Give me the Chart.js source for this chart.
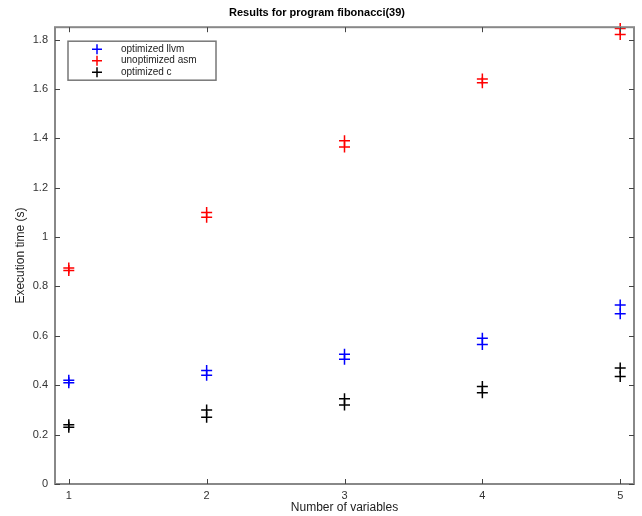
<!DOCTYPE html>
<html>
<head>
<meta charset="utf-8">
<script src="https://cdn.jsdelivr.net/npm/chart.js@4/dist/chart.umd.min.js"></script>
<style>
  html, body { margin: 0; padding: 0; background: #fff; }
  #wrap { width: 642px; height: 516px; }
</style>
</head>
<body>
<div id="wrap"><canvas id="chart"></canvas></div>
<script>
// number of variables, each run measured twice
const xValues = [1, 1, 2, 2, 3, 3, 4, 4, 5, 5];
const optimizedLlvm = [0.42, 0.41, 0.46, 0.44, 0.525, 0.505, 0.59, 0.565, 0.725, 0.69];
const unoptimizedAsm = [0.875, 0.865, 1.10, 1.08, 1.39, 1.365, 1.64, 1.625, 1.845, 1.82];
const optimizedC = [0.24, 0.23, 0.30, 0.27, 0.345, 0.32, 0.395, 0.37, 0.47, 0.435];
const xTicks = [1, 2, 3, 4, 5];
const yTicks = [0, 0.2, 0.4, 0.6, 0.8, 1, 1.2, 1.4, 1.6, 1.8];

const toPoints = (ys) => ys.map((y, i) => ({ x: xValues[i], y: y }));

const font = 'Liberation Sans, Arial, Helvetica, sans-serif';

// matlab-ish box with inward ticks + legend box
const boxPlugin = {
  id: 'boxPlugin',
  afterDraw(chart) {
    const ctx = chart.ctx;
    const a = chart.chartArea;
    const xs = chart.scales.x;
    const ys = chart.scales.y;
    ctx.save();
    ctx.strokeStyle = '#888';
    ctx.lineWidth = 2;
    ctx.strokeRect(a.left, a.top, a.right - a.left, a.bottom - a.top);

    ctx.strokeStyle = '#444';
    ctx.lineWidth = 1;
    ctx.beginPath();
    xTicks.forEach((v) => {
      const px = Math.round(xs.getPixelForValue(v)) + 0.5;
      ctx.moveTo(px, a.bottom); ctx.lineTo(px, a.bottom - 5);
      ctx.moveTo(px, a.top); ctx.lineTo(px, a.top + 5);
    });
    yTicks.forEach((v) => {
      const py = Math.round(ys.getPixelForValue(v)) + 0.5;
      ctx.moveTo(a.left, py); ctx.lineTo(a.left + 5, py);
      ctx.moveTo(a.right, py); ctx.lineTo(a.right - 5, py);
    });
    ctx.stroke();

    // legend
    const lx = a.left + 13, ly = a.top + 14, lw = 148, lh = 39;
    ctx.fillStyle = '#fff';
    ctx.fillRect(lx, ly, lw, lh);
    ctx.strokeStyle = '#777';
    ctx.lineWidth = 1.5;
    ctx.strokeRect(lx, ly, lw, lh);
    ctx.font = '10px ' + font;
    ctx.textBaseline = 'middle';
    chart.data.datasets.forEach((ds, i) => {
      const cy = ly + 8 + i * 11.5;
      const cx = lx + 29;
      ctx.strokeStyle = ds.borderColor;
      ctx.lineWidth = 1.5;
      ctx.beginPath();
      ctx.moveTo(cx - 5, cy); ctx.lineTo(cx + 5, cy);
      ctx.moveTo(cx, cy - 5); ctx.lineTo(cx, cy + 5);
      ctx.stroke();
      ctx.fillStyle = '#222';
      ctx.fillText(ds.label, lx + 53, cy);
    });
    ctx.restore();
  }
};

new Chart(document.getElementById('chart'), {
  type: 'scatter',
  data: {
    datasets: [
      {
        label: 'optimized llvm',
        data: toPoints(optimizedLlvm),
        borderColor: '#0000ff',
        backgroundColor: '#0000ff',
      },
      {
        label: 'unoptimized asm',
        data: toPoints(unoptimizedAsm),
        borderColor: '#ff0000',
        backgroundColor: '#ff0000',
      },
      {
        label: 'optimized c',
        data: toPoints(optimizedC),
        borderColor: '#000000',
        backgroundColor: '#000000',
      },
    ].map((d) => Object.assign(d, { pointStyle: 'cross', pointRadius: 5.5, pointBorderWidth: 1.5, clip: false })),
  },
  options: {
    responsive: true,
    maintainAspectRatio: false,
    animation: false,
    layout: { padding: { right: 8, left: 0 } },
    plugins: {
      legend: { display: false },
      tooltip: { enabled: false },
      title: {
        display: true,
        text: 'Results for program fibonacci(39)',
        color: '#000',
        font: { family: font, size: 11, weight: 'bold' },
        padding: { top: 6, bottom: 8 },
      },
    },
    scales: {
      x: {
        type: 'linear',
        min: 0.9,
        max: 5.1,
        afterBuildTicks: (scale) => { scale.ticks = xTicks.map((v) => ({ value: v })); },
        afterFit: (scale) => { scale.height = 32; },
        grid: { display: false, drawTicks: false },
        border: { display: false },
        ticks: { color: '#333', font: { family: font, size: 11 }, padding: 5, callback: (v) => String(v) },
        title: {
          display: true,
          text: 'Number of variables',
          color: '#222',
          font: { family: font, size: 12 },
          padding: { top: 0, bottom: 1 },
        },
      },
      y: {
        type: 'linear',
        min: 0,
        max: 1.85,
        afterBuildTicks: (scale) => { scale.ticks = yTicks.map((v) => ({ value: v })); },
        afterFit: (scale) => { scale.width = 55; },
        grid: { display: false, drawTicks: false },
        border: { display: false },
        ticks: { color: '#333', font: { family: font, size: 11 }, padding: 7, callback: (v) => String(+v.toFixed(1)) },
        title: {
          display: true,
          text: 'Execution time (s)',
          color: '#222',
          font: { family: font, size: 12 },
          padding: { top: 13, bottom: 0 },
        },
      },
    },
  },
  plugins: [boxPlugin],
});
</script>
</body>
</html>
